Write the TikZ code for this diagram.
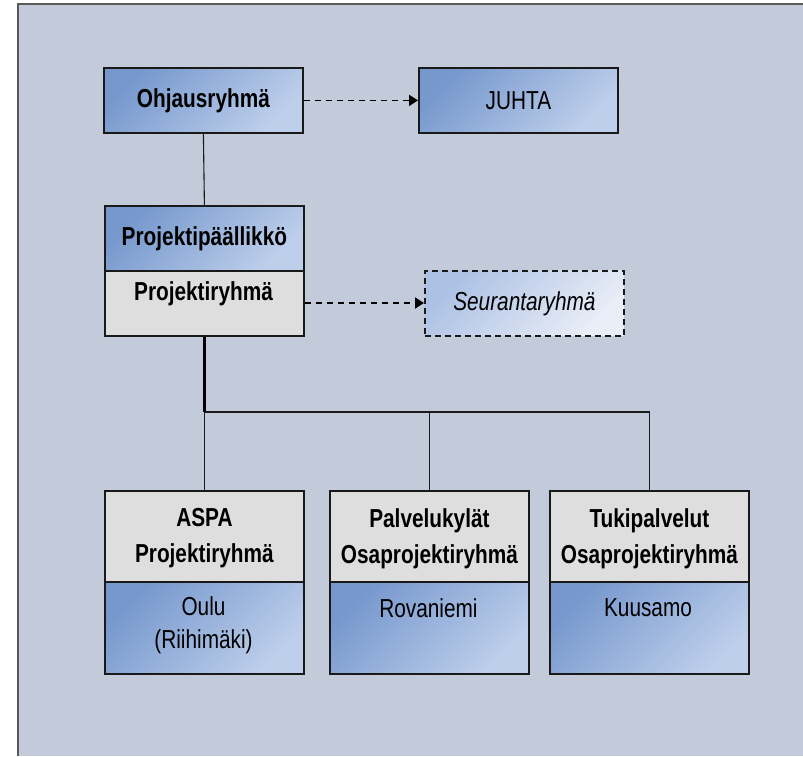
\documentclass[tikz,border=0pt]{standalone}
\usepackage{fontspec}
\setmainfont{Liberation Sans}[FakeStretch=0.8]
\usetikzlibrary{arrows.meta}
\definecolor{bg}{RGB}{195,203,219}
\definecolor{blueA}{RGB}{118,152,205}
\definecolor{blueB}{RGB}{190,207,235}
\definecolor{greybox}{RGB}{222,222,222}
\definecolor{lightA}{RGB}{172,193,228}
\definecolor{lightB}{RGB}{234,238,247}
\begin{document}
\begin{tikzpicture}[x=1pt,y=-1pt,
  box/.style={draw=black!90, line width=1.8pt, inner sep=0pt, anchor=north west,
    minimum width=199pt, font=\fontsize{26}{30}\selectfont},
  bluebox/.style={box, top color=blueA, bottom color=blueB, shading angle=45},
  greyboxst/.style={box, fill=greybox},
  dashbox/.style={box, dash pattern=on 6pt off 4pt, top color=lightA, bottom color=lightB, shading angle=45},
  txt/.style={inner sep=0pt, font=\fontsize{26}{30}\selectfont, align=center},
  dasharrow/.style={line width=1.8pt, dash pattern=on 6pt off 5pt, -{Triangle[length=9pt,width=11pt]}},
  conn/.style={line width=1.1pt, black!90},
  thickconn/.style={line width=2.2pt, black}
]
\useasboundingbox (0,0) rectangle (803,756);
\fill[bg] (18,4) rectangle (803,756);
\draw[line width=1.4pt, black!65] (18,756) -- (18,4) -- (803,4);

% top row
\node[bluebox, minimum height=65pt, font=\fontsize{26}{30}\selectfont\bfseries] (oh) at (103,67) {Ohjausryhmä};
\node[bluebox, minimum height=65pt] (juhta) at (418,67) {JUHTA};

% project manager / group
\node[bluebox, minimum height=65pt, font=\fontsize{26}{30}\selectfont\bfseries] (pp) at (104,205) {Projektipäällikkö};
\node[greyboxst, minimum height=65pt] (pr) at (104,270) {};
\node[txt, font=\fontsize{26}{30}\selectfont\bfseries] (prt) at (203.5,294) {Projektiryhmä};
\node[dashbox, minimum height=65pt, font=\fontsize{26}{30}\selectfont\itshape] (seur) at (424,270) {Seurantaryhmä};

% bottom groups
\node[greyboxst, minimum height=91pt] (aspa) at (104,490) {};
\node[bluebox, minimum height=92pt] (oulu) at (104,581) {};
\node[greyboxst, minimum height=91pt] (palv) at (329,490) {};
\node[bluebox, minimum height=92pt] (rova) at (329,581) {};
\node[greyboxst, minimum height=91pt] (tuki) at (549,490) {};
\node[bluebox, minimum height=92pt] (kuus) at (549,581) {};

\node[txt, font=\fontsize{26}{36}\selectfont\bfseries] (aspat) at ([yshift=-2pt]aspa.center) {ASPA\\Projektiryhmä};
\node[txt, font=\fontsize{26}{36}\selectfont\bfseries] (palvt) at ([yshift=-2pt]palv.center) {Palvelukylät\\Osaprojektiryhmä};
\node[txt, font=\fontsize{26}{36}\selectfont\bfseries] (tukit) at ([yshift=-2pt]tuki.center) {Tukipalvelut\\Osaprojektiryhmä};
\node[txt, font=\fontsize{26}{33}\selectfont] (oulut) at (203.5,625) {Oulu\\(Riihimäki)};
\node[txt] (rovat) at (428.5,608) {Rovaniemi};
\node[txt] (kuust) at (648,608) {Kuusamo};

% connectors
\coordinate (bus) at (pr.south |- 0,412);
\draw[conn] (oh.south) -- (pp.north);
\draw[dasharrow] (oh.east) -- (juhta.west);
\draw[dasharrow] (pr.east |- 0,303) -- (seur.west |- 0,303);
\draw[thickconn] (pr.south) -- (bus);
\draw[conn] (bus) -| (tuki.north);
\draw[conn] (bus) -- (aspa.north);
\draw[conn] (palv.north) -- (palv.north |- bus);
\end{tikzpicture}
\end{document}
